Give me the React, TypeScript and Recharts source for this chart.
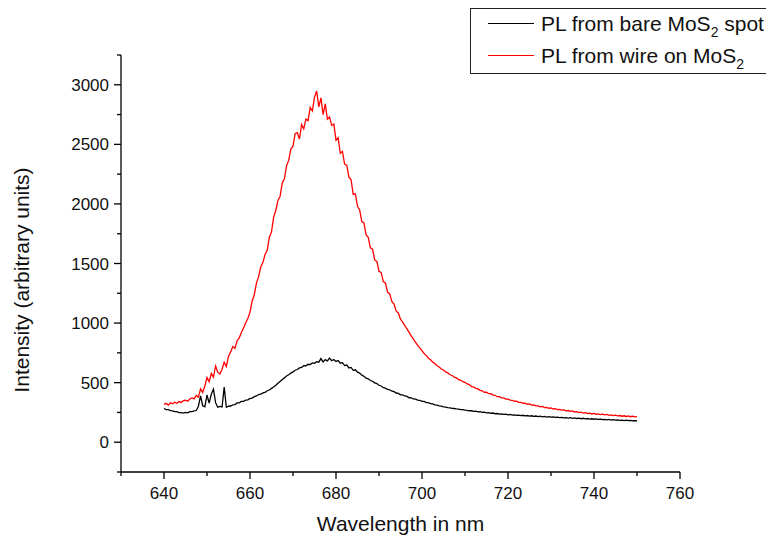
import React from 'react';
import { LineChart, Line, XAxis, YAxis, Legend } from 'recharts';

const FONT = '"Liberation Sans", Arial, sans-serif';

// wavelength grid (nm), 0.5 nm sampling
const wavelengths: number[] = Array.from({ length: 221 }, (_, i) => 640 + i * 0.5);

// PL from bare MoS2 spot (black)
const barePL: number[] = [
  283, 274, 273, 266, 263, 257, 256, 249, 249, 244,
  251, 246, 256, 257, 263, 266, 302, 388, 306, 298,
  396, 328, 402, 446, 332, 294, 301, 296, 462, 293,
  302, 304, 314, 316, 330, 331, 342, 343, 354, 356,
  367, 370, 382, 388, 400, 403, 414, 418, 432, 438,
  452, 463, 478, 494, 510, 526, 540, 556, 566, 580,
  590, 604, 610, 624, 628, 642, 642, 654, 652, 666,
  662, 676, 672, 702, 674, 693, 682, 706, 684, 694,
  678, 686, 663, 668, 643, 648, 623, 628, 603, 608,
  588, 580, 563, 554, 538, 532, 518, 512, 498, 492,
  478, 472, 458, 454, 443, 440, 428, 424, 413, 410,
  398, 397, 388, 384, 373, 372, 363, 362, 353, 352,
  343, 342, 333, 332, 323, 322, 313, 312, 305, 303,
  297, 295, 290, 289, 284, 283, 279, 278, 274, 273,
  269, 268, 264, 264, 259, 260, 254, 256, 250, 252,
  246, 248, 243, 245, 239, 241, 236, 238, 233, 235,
  230, 233, 228, 230, 225, 228, 223, 226, 221, 224,
  219, 222, 217, 220, 215, 218, 213, 216, 211, 214,
  210, 213, 208, 211, 206, 209, 204, 207, 203, 206,
  201, 204, 199, 202, 197, 201, 196, 199, 194, 197,
  193, 196, 191, 194, 189, 192, 188, 191, 186, 189,
  185, 188, 184, 186, 182, 185, 181, 183, 180, 182,
  180,
];

// PL from wire on MoS2 (red)
const wirePL: number[] = [
  318, 326, 312, 331, 322, 336, 327, 341, 334, 349,
  352, 344, 363, 372, 364, 392, 379, 448, 418, 472,
  542, 508, 577, 546, 640, 588, 573, 612, 672, 636,
  722, 758, 803, 788, 852, 876, 921, 958, 1003, 1038,
  1092, 1185, 1238, 1335, 1390, 1470, 1508, 1575, 1610, 1720,
  1765, 1890, 1945, 2030, 2065, 2175, 2210, 2320, 2365, 2460,
  2485, 2590, 2598, 2545, 2665, 2630, 2712, 2700, 2810, 2780,
  2895, 2948, 2815, 2890, 2750, 2840, 2712, 2730, 2660, 2670,
  2535, 2555, 2425, 2440, 2335, 2325, 2225, 2205, 2080, 2085,
  1980, 1950, 1852, 1840, 1740, 1720, 1632, 1620, 1530, 1518,
  1435, 1425, 1348, 1335, 1258, 1245, 1180, 1160, 1100, 1085,
  1032, 1008, 978, 952, 922, 892, 865, 838, 812, 790,
  768, 744, 727, 705, 692, 672, 660, 642, 632, 614,
  606, 590, 582, 566, 560, 546, 540, 526, 520, 508,
  503, 489, 484, 467, 464, 452, 447, 435, 432, 419,
  420, 407, 407, 395, 394, 382, 382, 372, 372, 362,
  362, 353, 352, 344, 344, 335, 335, 327, 328, 319,
  322, 312, 314, 305, 305, 297, 300, 291, 292, 285,
  287, 279, 282, 273, 276, 269, 272, 263, 266, 259,
  262, 254, 257, 249, 252, 245, 248, 241, 244, 237,
  242, 235, 238, 232, 236, 229, 233, 226, 230, 223,
  227, 221, 224, 218, 222, 216, 220, 214, 218, 213,
  214,
];

const xTicks = [630, 640, 650, 660, 670, 680, 690, 700, 710, 720, 730, 740, 750, 760];
const xLabelTicks = [640, 660, 680, 700, 720, 740, 760];
const yTicks = [-250, 0, 250, 500, 750, 1000, 1250, 1500, 1750, 2000, 2250, 2500, 2750, 3000, 3250];
const yLabelTicks = [0, 500, 1000, 1500, 2000, 2500, 3000];

const xTitle = 'Wavelength in nm';
const yTitle = 'Intensity (arbitrary units)';

const data = wavelengths.map((w, i) => ({ w, bare: barePL[i], wire: wirePL[i] }));

const XTick = (props: any) => {
  const { x, y, payload } = props;
  const major = xLabelTicks.includes(payload.value);
  return (
    <g>
      <line x1={x} x2={x} y1={y} y2={y + (major ? 7 : 4)} stroke="#000" strokeWidth={1.3} />
      {major && (
        <text x={x} y={y + 27} textAnchor="middle" fontSize={17} fill="#111" fontFamily={FONT}>
          {payload.value}
        </text>
      )}
    </g>
  );
};

const YTick = (props: any) => {
  const { x, y, payload } = props;
  const major = yLabelTicks.includes(payload.value);
  return (
    <g>
      <line x1={x} x2={x - (major ? 7 : 4)} y1={y} y2={y} stroke="#000" strokeWidth={1.3} />
      {major && (
        <text x={x - 12} y={y + 6} textAnchor="end" fontSize={17} fill="#111" fontFamily={FONT}>
          {payload.value}
        </text>
      )}
    </g>
  );
};

const XTitle = (props: any) => {
  const vb = props.viewBox || {};
  const cx = vb.x + vb.width / 2;
  return (
    <text x={cx} y={531} textAnchor="middle" fontSize={21} fill="#111" fontFamily={FONT}>
      {xTitle}
    </text>
  );
};

const YTitle = () => (
  <text
    x={0}
    y={0}
    transform="translate(29 280) rotate(-90)"
    textAnchor="middle"
    fontSize={21}
    fill="#111"
    fontFamily={FONT}
  >
    {yTitle}
  </text>
);

const LegendBox = () => {
  const row = (color: string, pre: string, post: string, top: number) => (
    <div style={{ position: 'absolute', left: 0, top, height: 24, width: 320 }}>
      <div style={{ position: 'absolute', left: 17, top: 11, width: 46, height: 0, borderTop: `1px solid ${color}` }} />
      <div
        style={{
          position: 'absolute',
          left: 70,
          top: 0,
          fontSize: 21,
          lineHeight: '24px',
          whiteSpace: 'nowrap',
          color: '#111',
          fontFamily: FONT,
        }}
      >
        {pre}
        <span style={{ fontSize: 14, position: 'relative', top: 6 }}>2</span>
        {post}
      </div>
    </div>
  );
  return (
    <div
      style={{
        position: 'relative',
        width: 320,
        height: 66,
        border: '1.3px solid #222',
        boxSizing: 'border-box',
        background: '#fff',
      }}
    >
      {row('#000', 'PL from bare MoS', ' spot', 3)}
      {row('#ff0000', 'PL from wire on MoS', '', 35)}
    </div>
  );
};

export default function App() {
  return (
    <div style={{ position: 'absolute', left: 0, top: 0, width: 766, height: 540, overflow: 'hidden', background: '#fff' }}>
      <LineChart width={766} height={540} data={data} margin={{ top: 55, right: 86, bottom: 0, left: 60 }}>
        <XAxis
          dataKey="w"
          type="number"
          domain={[630, 760]}
          ticks={xTicks}
          interval={0}
          allowDataOverflow
          height={68}
          tickSize={0}
          tickMargin={0}
          tickLine={false}
          tick={<XTick />}
          axisLine={{ stroke: '#000', strokeWidth: 1.3 }}
          label={<XTitle />}
        />
        <YAxis
          type="number"
          domain={[-250, 3250]}
          ticks={yTicks}
          interval={0}
          allowDataOverflow
          width={61}
          tickSize={0}
          tickMargin={0}
          tickLine={false}
          tick={<YTick />}
          axisLine={{ stroke: '#000', strokeWidth: 1.3 }}
          label={<YTitle />}
        />
        <Legend
          layout="horizontal"
          verticalAlign="middle"
          align="center"
          content={<LegendBox />}
          wrapperStyle={{ left: 470, top: 8, width: 320, height: 66 }}
        />
        <Line
          type="linear"
          dataKey="bare"
          stroke="#000"
          strokeWidth={1.3}
          dot={false}
          isAnimationActive={false}
        />
        <Line
          type="linear"
          dataKey="wire"
          stroke="#ff0000"
          strokeWidth={1.3}
          dot={false}
          isAnimationActive={false}
        />
      </LineChart>
    </div>
  );
}
